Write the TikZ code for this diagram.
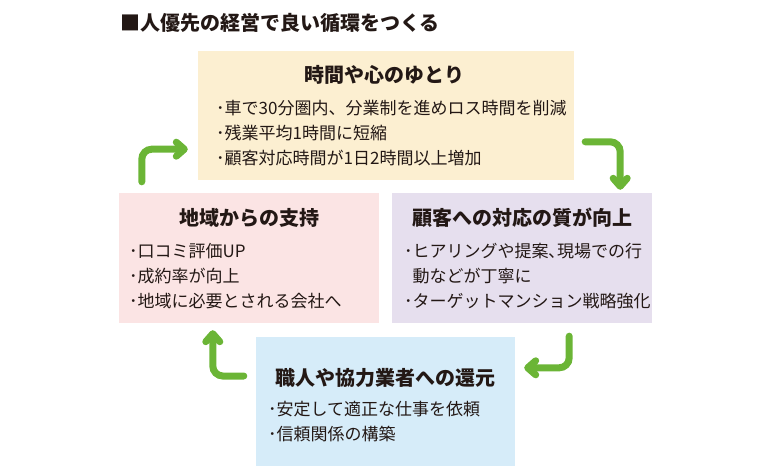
\documentclass[tikz,border=0pt]{standalone}
\usepackage{fontspec}
\setmainfont{Noto Sans CJK JP}
\usetikzlibrary{arrows.meta,calc}
\definecolor{yutoribg}{HTML}{FCEFD1}
\definecolor{shijibg}{HTML}{FBE4E4}
\definecolor{taioubg}{HTML}{E6DFEE}
\definecolor{kangenbg}{HTML}{D6ECF9}
\definecolor{cyclegreen}{HTML}{6BB536}
\definecolor{ink}{HTML}{231815}
\tikzset{
  box/.style={inner sep=0pt, draw=none},
  heading/.style={text=ink, font=\fontsize{20}{24}\selectfont\bfseries},
  bullets/.style={text=ink, anchor=west, align=left, inner sep=0pt,
    font=\fontsize{17}{25}\selectfont},
  cycle/.style={draw=cyclegreen, line width=7pt, line cap=round,
    rounded corners=10pt,
    -{Straight Barb[length=8pt,width=14pt,round]}}
}
\begin{document}
\begin{tikzpicture}[x=1pt,y=-1pt]
  \useasboundingbox (0,0) rectangle (758,474);
  \node[heading, anchor=west, inner sep=0pt] (title) at (120,23) {■人優先の経営で良い循環をつくる};

  \node[box, fill=yutoribg, minimum width=376pt, minimum height=129pt] (yutori) at (386,115.5) {};
  \node[box, fill=shijibg, minimum width=260pt, minimum height=130pt] (shiji) at (249,258) {};
  \node[box, fill=taioubg, minimum width=260pt, minimum height=130pt] (taiou) at (522,258) {};
  \node[box, fill=kangenbg, minimum width=259pt, minimum height=129pt] (kangen) at (385.5,401.5) {};

  \node[heading] (yutori title) at (384,75) {時間や心のゆとり};
  \node[bullets] (yutori text) at (216,133) {･車で30分圏内、分業制を進めロス時間を削減\\･残業平均1時間に短縮\\･顧客対応時間が1日2時間以上増加};

  \node[heading] (shiji title) at (249,218) {地域からの支持};
  \node[bullets] (shiji text) at (129,276.5) {･口コミ評価UP\\･成約率が向上\\･地域に必要とされる会社へ};

  \node[heading] (taiou title) at (522,218) {顧客への対応の質が向上};
  \node[bullets] (taiou text) at (404,276.5) {･ヒアリングや提案､現場での行\\\phantom{･}動などが丁寧に\\･ターゲットマンション戦略強化};

  \node[heading] (kangen title) at (385,378) {職人や協力業者への還元};
  \node[bullets] (kangen text) at (268,422) {･安定して適正な仕事を依頼\\･信頼関係の構築};

  % green arrows round the cycle
  \draw[cycle] ($(shiji.north west)+(23,-11)$) |- ($(yutori.south west)+(-10,-31)$);
  \draw[cycle] ($(yutori.north east)+(11,91)$) -| ($(taiou.north east)+(-32,-3)$);
  \draw[cycle] ($(taiou.south east)+(-83,13)$) |- ($(kangen.north east)+(9,31)$);
  \draw[cycle] ($(kangen.west)+(-12,-25.5)$) -| ($(shiji.south west)+(94,7)$);
\end{tikzpicture}
\end{document}
